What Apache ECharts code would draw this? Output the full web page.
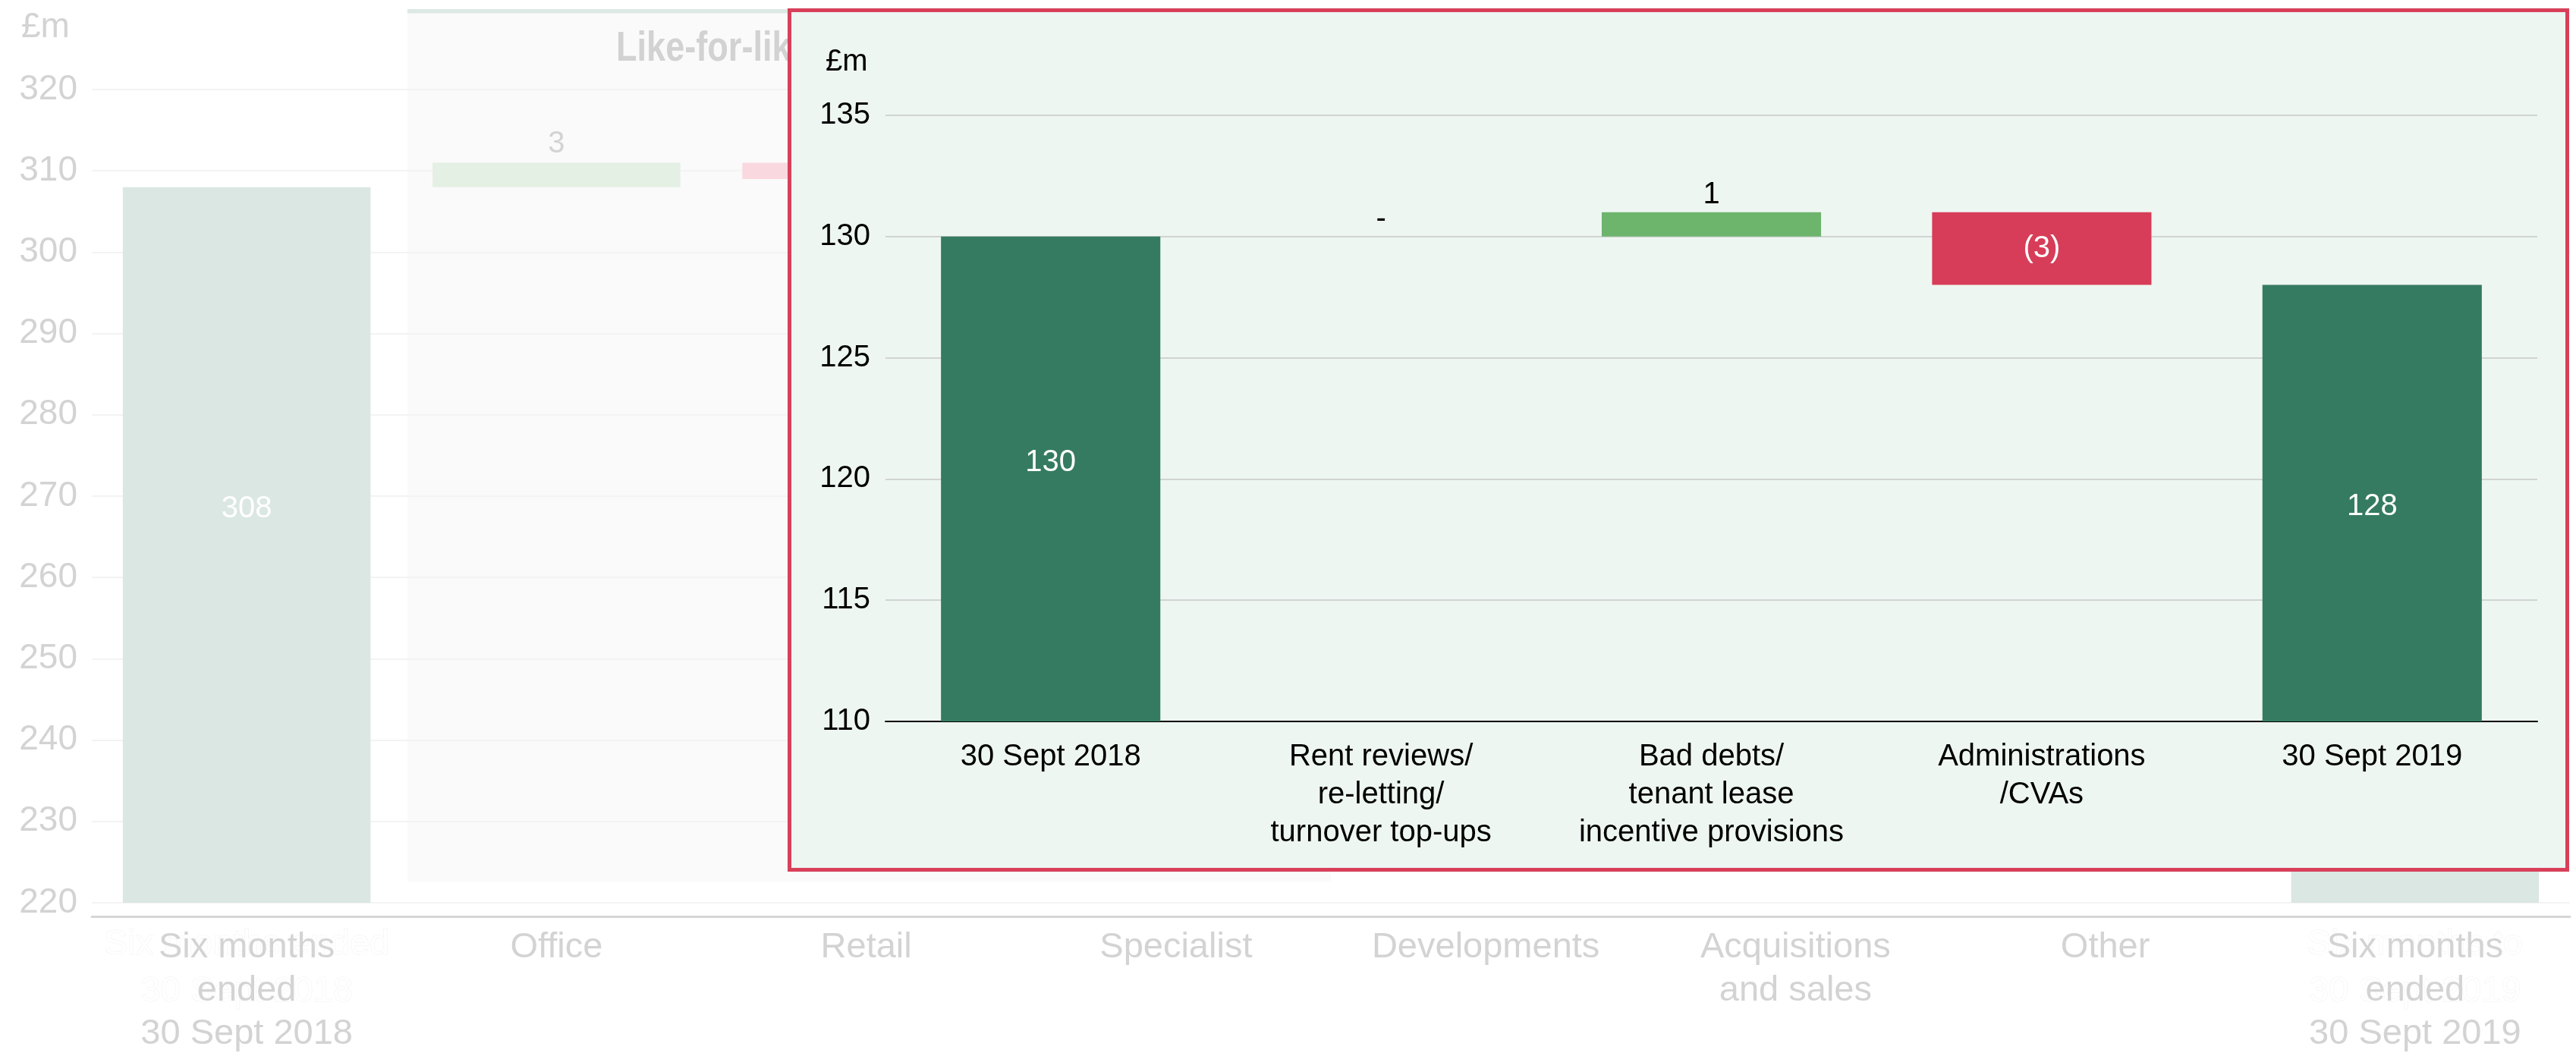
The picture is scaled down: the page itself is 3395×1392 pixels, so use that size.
<!DOCTYPE html>
<html>
<head>
<meta charset="utf-8">
<script src="https://cdn.jsdelivr.net/npm/echarts@6/dist/echarts.min.js"></script>
<style>
  html, body { margin: 0; padding: 0; background: #ffffff; }
  #main { position: absolute; left: 0; top: 0; width: 3395px; height: 1392px; }
  #inset {
    position: absolute; left: 1038px; top: 11px; width: 2348px; height: 1138px;
    box-sizing: border-box; border: 5px solid #d8405a; background: #eef6f2;
  }
</style>
</head>
<body>
<div id="main"></div>
<div id="inset"></div>
<script>
// ---- Faded background waterfall: net rental income by segment (£m) ----
const bgCategories = [
  'Six months\nended\n30 Sept 2018', 'Office', 'Retail', 'Specialist',
  'Developments', 'Acquisitions\nand sales', 'Other', 'Six months\nended\n30 Sept 2019'
];
const bgGhostLabels = [
  'Six months ended\n30 Sept 2018', '', '', '', '', '', '', 'Six months to\n30 Sept 2019'
];
const bgOpening = 308;
const bgChanges = [3, -2, 2, 3, -13, -1];
const bgClosing = 300;
const bgAxisMin = 220;
const bgAxisMax = 320;
const bgAxisStep = 10;

// ---- Inset waterfall: retail like-for-like movement (£m) ----
const insetCategories = [
  '30 Sept 2018',
  'Rent reviews/\nre-letting/\nturnover top-ups',
  'Bad debts/\ntenant lease\nincentive provisions',
  'Administrations\n/CVAs',
  '30 Sept 2019'
];
const insetOpening = 130;
const insetChanges = [0, 1, -3];
const insetClosing = 128;
const insetAxisMin = 110;
const insetAxisMax = 135;
const insetAxisStep = 5;

const FONT = '"Liberation Sans", Arial, sans-serif';

// Split opening / changes / closing into stacked pieces: invisible base, rises, falls, totals.
function buildWaterfall(opening, changes, closing) {
  const n = changes.length + 2;
  const base = [], rise = [], fall = [], total = [];
  for (let i = 0; i < n; i++) { base.push('-'); rise.push('-'); fall.push('-'); total.push('-'); }
  base[0] = 0; base[n - 1] = 0;
  total[0] = opening; total[n - 1] = closing;
  let level = opening;
  changes.forEach((d, k) => {
    const i = k + 1;
    const next = level + d;
    base[i] = Math.min(level, next);
    if (d >= 0) rise[i] = d; else fall[i] = -d;
    level = next;
  });
  return { base, rise, fall, total };
}

// ---------------- background chart ----------------
const bgW = buildWaterfall(bgOpening, bgChanges, bgClosing);
const bg = echarts.init(document.getElementById('main'));
bg.setOption({
  animation: false,
  textStyle: { fontFamily: FONT },
  title: [
    { text: '£m', left: 28, top: 13, padding: 0,
      textStyle: { fontFamily: FONT, fontSize: 46, fontWeight: 'normal', color: '#d3d3d3' } }
  ],
  graphic: [
    // shaded like-for-like band with its top rule
    { type: 'rect', z: -1, silent: true,
      shape: { x: 537, y: 12, width: 1217, height: 1150 },
      style: { fill: '#fafafa' } },
    { type: 'rect', z: -1, silent: true,
      shape: { x: 537, y: 12, width: 1217, height: 5.5 },
      style: { fill: '#dce8e3' } },
    // band heading, condensed bold
    { type: 'text', z: 10, silent: true, x: 812, y: 37, scaleX: 0.82,
      style: { text: 'Like-for-like', fontFamily: FONT, fontSize: 55, fontWeight: 'bold',
               fill: '#d2d2d2', verticalAlign: 'top', align: 'left' } }
  ],
  grid: { left: 121, right: 8, top: 118, bottom: 202 },
  xAxis: [
    { type: 'category', data: bgCategories, position: 'bottom', offset: 18, z: 2,
      axisLine: { lineStyle: { color: '#d6d6d6', width: 3 } },
      axisTick: { show: false },
      axisLabel: { interval: 0, fontFamily: FONT, fontSize: 47, lineHeight: 57, color: '#d3d3d3', margin: 13 } },
    { type: 'category', data: bgGhostLabels, position: 'bottom', offset: 18, z: 1,
      axisLine: { show: false }, axisTick: { show: false }, splitLine: { show: false },
      axisLabel: { interval: 0, fontFamily: FONT, fontSize: 47, lineHeight: 62, margin: 6,
                   color: '#ffffff', textBorderColor: '#f1f1f1', textBorderWidth: 1 } }
  ],
  yAxis: {
    type: 'value', min: bgAxisMin, max: bgAxisMax, interval: bgAxisStep,
    axisLine: { show: false }, axisTick: { show: false },
    axisLabel: { fontFamily: FONT, fontSize: 46, color: '#d3d3d3', margin: 19 },
    splitLine: { lineStyle: { color: '#f3f3f3', width: 2 } }
  },
  series: [
    { type: 'bar', stack: 'wf', data: bgW.base, barCategoryGap: '20%', silent: true,
      itemStyle: { color: 'transparent' } },
    { type: 'bar', stack: 'wf', data: bgW.total,
      itemStyle: { color: '#dbe7e2' },
      label: { show: true, position: ['50%', '45%'], align: 'center', verticalAlign: 'middle',
               fontFamily: FONT, fontSize: 40, color: '#ffffff' } },
    { type: 'bar', stack: 'wf', data: bgW.rise,
      itemStyle: { color: '#e4f0e4' },
      label: { show: true, position: 'top', distance: 5, fontFamily: FONT, fontSize: 40, color: '#d3d3d3',
               formatter: p => (p.value === 0 ? '-' : String(p.value)) } },
    { type: 'bar', stack: 'wf', data: bgW.fall,
      itemStyle: { color: '#f9d9df' },
      label: { show: true, position: 'inside', fontFamily: FONT, fontSize: 40, color: '#ffffff',
               formatter: p => '(' + p.value + ')' } }
  ]
});

// ---------------- inset chart ----------------
const inW = buildWaterfall(insetOpening, insetChanges, insetClosing);
const lastIdx = inW.total.length - 1;
const inTotals = inW.total.map((v, i) => {
  if (v === '-') return '-';
  if (i === 0) return { value: v, label: { position: ['50%', '46.6%'] } };
  if (i === lastIdx) return { value: v, label: { position: ['50%', '50.8%'] } };
  return v;
});
const ins = echarts.init(document.getElementById('inset'));
ins.setOption({
  animation: false,
  textStyle: { fontFamily: FONT },
  title: { text: '£m', left: 45, top: 46, padding: 0,
           textStyle: { fontFamily: FONT, fontSize: 40, fontWeight: 'normal', color: '#000000' } },
  grid: { left: 124, right: 37, top: 135.8, bottom: 193 },
  xAxis: {
    type: 'category', data: insetCategories,
    axisLine: { lineStyle: { color: '#000000', width: 2 } },
    axisTick: { show: false },
    axisLabel: { interval: 0, fontFamily: FONT, fontSize: 40, lineHeight: 50, color: '#000000', margin: 22 }
  },
  yAxis: {
    type: 'value', min: insetAxisMin, max: insetAxisMax, interval: insetAxisStep,
    axisLine: { show: false }, axisTick: { show: false },
    axisLabel: { fontFamily: FONT, fontSize: 40, color: '#000000', margin: 20 },
    splitLine: { lineStyle: { color: '#d0d4d2', width: 2 } }
  },
  series: [
    { type: 'bar', stack: 'wf', data: inW.base, barCategoryGap: '33.6%', silent: true,
      itemStyle: { color: 'transparent' } },
    { type: 'bar', stack: 'wf', data: inTotals,
      itemStyle: { color: '#357b61' },
      label: { show: true, position: 'inside', align: 'center', verticalAlign: 'middle',
               fontFamily: FONT, fontSize: 40, color: '#ffffff' } },
    { type: 'bar', stack: 'wf', data: inW.rise,
      itemStyle: { color: '#6db46d' },
      label: { show: true, position: 'top', distance: 3, fontFamily: FONT, fontSize: 40, color: '#000000',
               formatter: p => (p.value === 0 ? '-' : String(p.value)) } },
    { type: 'bar', stack: 'wf', data: inW.fall,
      itemStyle: { color: '#d73d58' },
      label: { show: true, position: 'inside', fontFamily: FONT, fontSize: 40, color: '#ffffff',
               formatter: p => '(' + p.value + ')' } }
  ]
});
</script>
</body>
</html>
